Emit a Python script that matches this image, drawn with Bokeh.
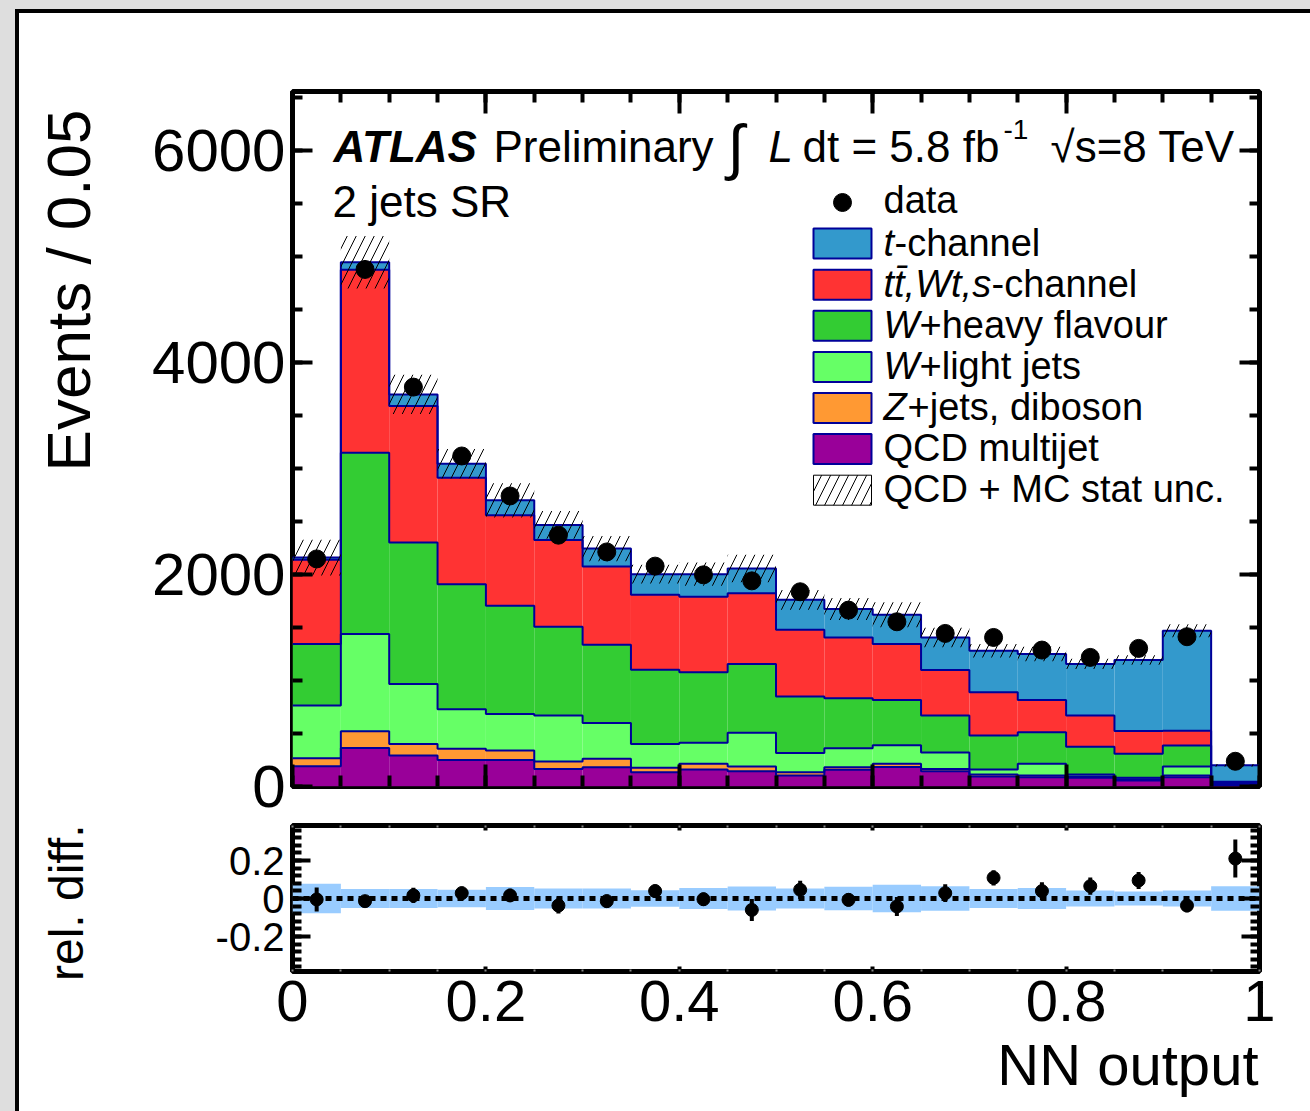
import math
import numpy as np
from bokeh.plotting import figure
from bokeh.models import Range1d, LinearAxis, FixedTicker, Label, Spacer, Title
from bokeh.layouts import column, row
from bokeh.embed import file_html
from bokeh.resources import INLINE

# ---------------- data ----------------
BIN_EDGES = [0.0, 0.05, 0.1, 0.15, 0.2, 0.25, 0.3, 0.35, 0.4, 0.45, 0.5,
             0.55, 0.6, 0.65, 0.7, 0.75, 0.8, 0.85, 0.9, 0.95, 1.0]
BIN_CENTERS = [0.025, 0.075, 0.125, 0.175, 0.225, 0.275, 0.325, 0.375, 0.425, 0.475,
               0.525, 0.575, 0.625, 0.675, 0.725, 0.775, 0.825, 0.875, 0.925, 0.975]

QCD_MULTIJET = [191, 364, 292, 251, 251, 166, 182, 135, 160, 144, 104, 157, 185, 144, 94, 88, 82, 57, 88, 12]
Z_DIBOSON = [76, 157, 110, 104, 88, 69, 79, 41, 54, 44, 31, 25, 29, 22, 19, 16, 12, 12, 16, 4]
W_LIGHT = [496, 917, 565, 373, 346, 434, 339, 226, 198, 318, 182, 179, 176, 154, 47, 110, 19, 13, 84, 8]
W_HEAVY = [581, 1711, 1334, 1181, 1020, 838, 737, 700, 665, 650, 531, 471, 427, 349, 320, 298, 261, 226, 198, 8]
TOP_BKG = [794, 1727, 1288, 1004, 854, 819, 738, 706, 713, 668, 631, 574, 527, 430, 408, 305, 295, 216, 141, 13]
T_CHANNEL = [22, 69, 110, 132, 141, 142, 170, 195, 213, 232, 282, 268, 276, 307, 393, 433, 487, 669, 942, 155]

DATA = [2147, 4878, 3768, 3118, 2741, 2371, 2213, 2079, 1997, 1940,
        1837, 1664, 1554, 1444, 1406, 1287, 1218, 1303, 1413, 238]

# relative stat. uncertainty of the prediction (band / hatch)
UNC_FRAC = [0.078, 0.05, 0.05, 0.046, 0.06, 0.053, 0.053, 0.044, 0.055, 0.063,
            0.053, 0.062, 0.073, 0.065, 0.05, 0.055, 0.042, 0.037, 0.042, 0.065]

REL_DIFF = [-0.005, -0.014, 0.016, 0.028, 0.016, -0.037, -0.014, 0.039, -0.004, -0.06,
            0.046, -0.007, -0.042, 0.028, 0.109, 0.039, 0.065, 0.095, -0.037, 0.21]
REL_DIFF_ERR = [0.063, 0.02, 0.04, 0.035, 0.035, 0.042, 0.035, 0.035, 0.035, 0.058,
                0.048, 0.035, 0.05, 0.047, 0.04, 0.047, 0.045, 0.045, 0.035, 0.1]

X_TICKS = [0, 0.2, 0.4, 0.6, 0.8, 1]
X_TICK_LABELS = ["0", "0.2", "0.4", "0.6", "0.8", "1"]
Y_TICKS = [0, 2000, 4000, 6000]
Y_TICK_LABELS = ["0", "2000", "4000", "6000"]
R_TICKS = [-0.2, 0, 0.2]
R_TICK_LABELS = ["-0.2", "0", "0.2"]

# ---------------- style ----------------
FONT = "Liberation Sans"
C_TCH = "#3399cc"
C_TOP = "#ff3333"
C_WHF = "#33cc33"
C_WLF = "#66ff66"
C_Z = "#ff9933"
C_QCD = "#990099"
C_EDGE = "#000099"
C_BAND = "#99ccff"
GREY = "#dedede"
HATCH_SCALE = 18

# page-pixel geometry of the reference
PAGE_X0, PAGE_Y0 = 19, 13      # white panel origin
LEFT_W = 110                   # width of the left title strip
FX0, FX1 = 292, 1259           # frame left/right (page px)
M_TOP, M_BOT = 91, 786         # main frame top / zero line
P1_END = 820                   # page y where the main canvas ends
YMAX = (M_BOT - M_TOP) * 2000 / 212.0
R_ZERO, R_PX_PER_UNIT = 898, 190.0
R_TOP, R_BOT = 825, 971
RMAX = (R_ZERO - R_TOP) / R_PX_PER_UNIT
RMIN = (R_ZERO - R_BOT) / R_PX_PER_UNIT
BASE_SHIFT = 0.37              # label alphabetic-baseline correction (em)


def X(px):
    return (px - FX0) / (FX1 - FX0)


def Y1(py):
    return (M_BOT - py) * YMAX / (M_BOT - M_TOP)


def lab(fig, x, y, text, size, style="normal", align="left", angle=0.0):
    fig.add_layout(Label(x=x, y=y, text=text, text_font=FONT, text_font_size=f"{size}px",
                         text_font_style=style, text_align=align, text_baseline="alphabetic",
                         angle=angle, text_color="black"))


def lab1(px, py, text, size, style="normal", align="left"):
    # place on the main panel by page pixel of the baseline
    lab(p1, X(px), Y1(py - BASE_SHIFT * size), text, size, style, align)


def style_axis(ax, ticks, minor, labels, maj_in, min_in, label_size, show, standoff):
    ax.ticker = FixedTicker(ticks=ticks, minor_ticks=minor)
    ax.major_tick_in = maj_in
    ax.major_tick_out = 0
    ax.minor_tick_in = min_in
    ax.minor_tick_out = 0
    ax.major_tick_line_width = 4
    ax.minor_tick_line_width = 4
    ax.major_tick_line_color = "black"
    ax.minor_tick_line_color = "black"
    ax.axis_line_color = None
    ax.major_label_text_font = FONT
    ax.major_label_standoff = standoff
    if show:
        ax.major_label_text_font_size = f"{label_size}px"
        ax.major_label_text_color = "black"
        ax.major_label_overrides = {t: s for t, s in zip(ticks, labels)}
    else:
        ax.major_label_text_font_size = "0px"
        ax.major_label_text_color = None
        ax.major_label_standoff = 0


X_MINOR = [i * 0.05 for i in range(21)]
Y_MINOR = [i * 500 for i in range(14)]
R_MINOR = [round(-0.36 + 0.04 * i, 2) for i in range(19)]

common = dict(x_axis_type=None, y_axis_type=None, output_backend="svg", toolbar_location=None,
              outline_line_color="black", outline_line_width=5,
              background_fill_color="white", border_fill_color="white",
              frame_width=FX1 - FX0,
              min_border_left=FX0 - PAGE_X0 - LEFT_W, min_border_right=1310 - FX1)

# ---------------- main panel ----------------
p1 = figure(x_range=Range1d(0, 1), y_range=Range1d(0, YMAX),
            frame_height=M_BOT - M_TOP, min_border_top=M_TOP - PAGE_Y0,
            min_border_bottom=P1_END - M_BOT, **common)

for side in ("left", "right"):
    ax = LinearAxis()
    style_axis(ax, Y_TICKS, Y_MINOR, Y_TICK_LABELS, 20, 10, 60, side == "left", 7)
    p1.add_layout(ax, side)
for side in ("below", "above"):
    ax = LinearAxis()
    style_axis(ax, X_TICKS, X_MINOR, X_TICK_LABELS, 22, 11, 58, False, 0)
    p1.add_layout(ax, side)

stack = np.array([QCD_MULTIJET, Z_DIBOSON, W_LIGHT, W_HEAVY, TOP_BKG, T_CHANNEL], dtype=float)
colors = [C_QCD, C_Z, C_WLF, C_WHF, C_TOP, C_TCH]
levels = np.cumsum(stack, axis=0)
lefts = BIN_EDGES[:-1]
rights = BIN_EDGES[1:]
for k in range(len(colors)):
    bottom = levels[k - 1] if k > 0 else np.zeros(len(lefts))
    p1.quad(left=lefts, right=rights, bottom=bottom, top=levels[k],
            fill_color=colors[k], line_color=None)
for k in range(len(colors) - 1, -1, -1):
    ys = list(levels[k]) + [levels[k][-1]]
    p1.step(x=BIN_EDGES, y=ys, mode="after", line_color=C_EDGE, line_width=2)

total = levels[-1]
unc = np.array(UNC_FRAC)
p1.quad(left=lefts, right=rights, bottom=total * (1 - unc), top=total * (1 + unc),
        fill_color=None, line_color=None, hatch_pattern="/", hatch_color="black",
        hatch_weight=1, hatch_scale=HATCH_SCALE)

p1.scatter(x=BIN_CENTERS, y=DATA, size=18, color="black")

# header texts (page pixel positions of baselines)
lab1(333, 162, "ATLAS", 44, style="bold italic")
lab1(493, 162, "Preliminary", 44)
lab(p1, X(727), Y1(146.5), "\u222b", 61)
lab1(768, 162, "L", 44, style="italic")
lab1(802, 162, "dt = 5.8 fb", 44)
lab1(1003, 139, "-1", 28)
lab1(1050, 162, "\u221as=8 TeV", 44)
lab1(332, 217, "2 jets SR", 44)

# legend
LEG_Y0, LEG_DY = 202, 41.1
BOX_L, BOX_R, TXT_X = 813, 871, 883
row_c = [LEG_Y0 + LEG_DY * i for i in range(8)]
p1.scatter(x=[X(842)], y=[Y1(row_c[0])], size=18, color="black")
lab1(TXT_X, row_c[0] + 12, "data", 38)
legend_boxes = [C_TCH, C_TOP, C_WHF, C_WLF, C_Z, C_QCD]
for i, col in enumerate(legend_boxes):
    c = row_c[i + 1]
    p1.quad(left=[X(BOX_L)], right=[X(BOX_R)], bottom=[Y1(c + 15)], top=[Y1(c - 15)],
            fill_color=col, line_color=C_EDGE, line_width=2)
c = row_c[7]
p1.quad(left=[X(BOX_L)], right=[X(BOX_R)], bottom=[Y1(c + 15)], top=[Y1(c - 15)],
        fill_color="white", line_color="black", line_width=1,
        hatch_pattern="/", hatch_color="black", hatch_weight=1, hatch_scale=HATCH_SCALE)

lab1(TXT_X, row_c[1] + 13, "t", 38, style="italic")
lab1(TXT_X + 11, row_c[1] + 13, "-channel", 38)
lab1(TXT_X, row_c[2] + 13, "tt\u0304,Wt,s", 38, style="italic")
lab1(991, row_c[2] + 13, "-channel", 38)
lab1(TXT_X, row_c[3] + 13, "W", 38, style="italic")
lab1(TXT_X + 36, row_c[3] + 13, "+heavy flavour", 38)
lab1(TXT_X, row_c[4] + 13, "W", 38, style="italic")
lab1(TXT_X + 36, row_c[4] + 13, "+light jets", 38)
lab1(TXT_X, row_c[5] + 13, "Z", 38, style="italic")
lab1(TXT_X + 24, row_c[5] + 13, "+jets, diboson", 38)
lab1(TXT_X, row_c[6] + 13, "QCD multijet", 38)
lab1(TXT_X, row_c[7] + 13, "QCD + MC stat unc.", 38)

# ---------------- ratio panel ----------------
p2 = figure(x_range=Range1d(0, 1), y_range=Range1d(RMIN, RMAX),
            frame_height=R_BOT - R_TOP, min_border_top=R_TOP - P1_END,
            min_border_bottom=1111 - R_BOT, **common)

for side in ("left", "right"):
    ax = LinearAxis()
    style_axis(ax, R_TICKS, R_MINOR, R_TICK_LABELS, 18, 9, 40, side == "left", 8)
    p2.add_layout(ax, side)
for side in ("below", "above"):
    ax = LinearAxis()
    style_axis(ax, X_TICKS, X_MINOR, X_TICK_LABELS, 5, 2, 58, side == "below", 9)
    ax.minor_tick_line_width = 2
    ax.minor_tick_line_color = "#888888"
    p2.add_layout(ax, side)

p2.add_layout(Title(text="NN output", align="right", text_font=FONT, text_font_size="58px",
                    text_font_style="normal", text_color="black", standoff=12, offset=1), "below")

p2.quad(left=lefts, right=rights, bottom=-unc, top=unc, fill_color=C_BAND, line_color=None)
p2.line(x=[X_TICKS[0], X_TICKS[-1]], y=[0, 0], line_color="black", line_width=5, line_dash="6 5")
rd = np.array(REL_DIFF)
re = np.array(REL_DIFF_ERR)
p2.segment(x0=BIN_CENTERS, y0=rd - re, x1=BIN_CENTERS, y1=rd + re, line_color="black", line_width=4)
p2.scatter(x=BIN_CENTERS, y=REL_DIFF, size=13, color="black")

# ---------------- left strip with the vertical axis titles ----------------
H_ALL = 1111 - PAGE_Y0
left = figure(width=LEFT_W, height=H_ALL, x_range=Range1d(PAGE_X0, PAGE_X0 + LEFT_W),
              y_range=Range1d(0, H_ALL), x_axis_type=None, y_axis_type=None,
              output_backend="svg", toolbar_location=None, outline_line_color=None,
              min_border_left=0, min_border_right=0, min_border_top=0, min_border_bottom=0,
              background_fill_color="white", border_fill_color="white")
lab(left, 91 - BASE_SHIFT * 62, 1111 - 109, "Events / 0.05", 62, align="right", angle=math.pi / 2)
lab(left, 84 - BASE_SHIFT * 48, 1111 - 824, "rel. diff.", 48, align="right", angle=math.pi / 2)

# ---------------- page frame ----------------
layout = column(
    Spacer(width=1310, height=9, styles={"background-color": GREY}),
    row(
        Spacer(width=15, height=1102, styles={"background-color": GREY}),
        Spacer(width=4, height=1102, styles={"background-color": "black"}),
        column(Spacer(width=1291, height=4, styles={"background-color": "black"}),
               row(left, column(p1, p2))),
    ),
)

open("out.html", "w").write(file_html(layout, INLINE))
